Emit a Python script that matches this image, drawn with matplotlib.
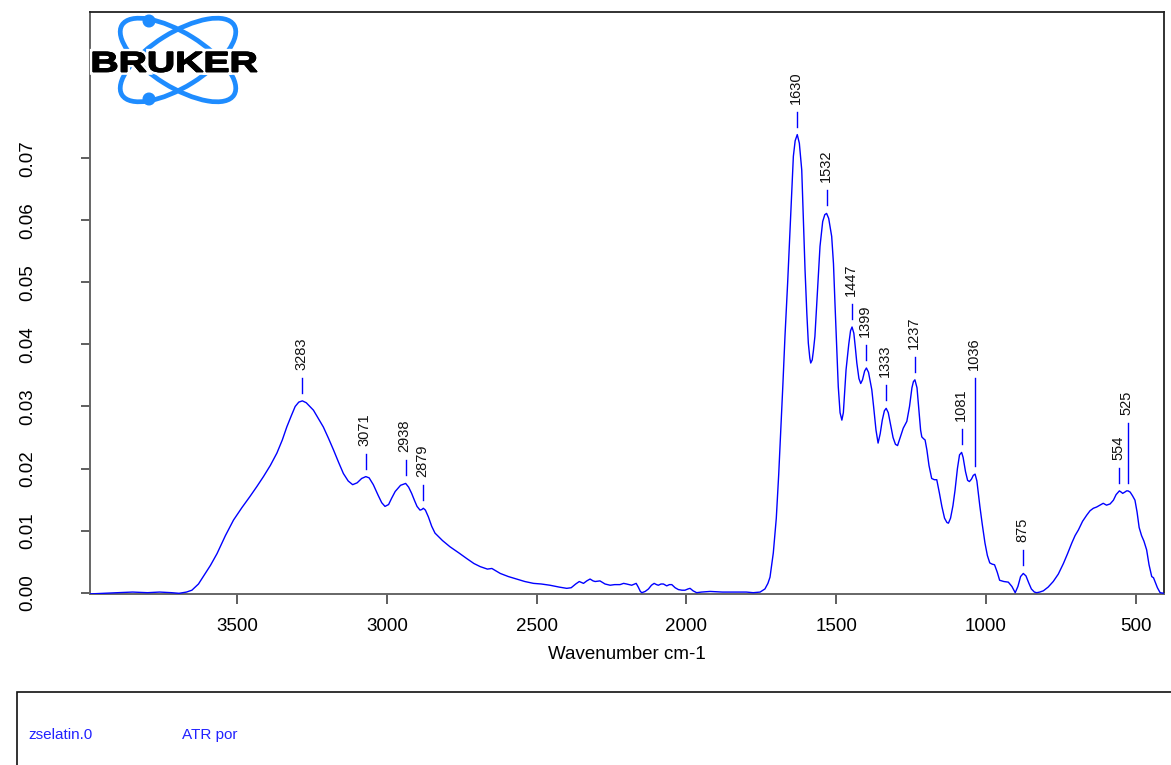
import numpy as np
import matplotlib
matplotlib.use("Agg")
import matplotlib.pyplot as plt
from matplotlib.patches import Ellipse, Circle, PathPatch, Rectangle
from matplotlib.textpath import TextPath
from matplotlib.font_manager import FontProperties
from matplotlib.transforms import Affine2D
import matplotlib.patheffects as pe

plt.rcParams['font.family'] = ['Liberation Sans', 'DejaVu Sans']

# ---- spectrum (wavenumber in cm-1, absorbance units) ----
wavenumber = [
    3993, 3950, 3900, 3850, 3800, 3760, 3720, 3695, 3670, 3652, 3630, 3614,
    3590, 3568, 3540, 3513, 3485, 3458, 3435, 3413, 3390, 3368, 3350, 3335,
    3320, 3307, 3295, 3283, 3270, 3258, 3246, 3230, 3213, 3196, 3179, 3162,
    3146, 3130, 3115, 3100, 3085, 3071, 3060, 3046, 3030, 3018, 3007, 2995,
    2985, 2973, 2955, 2938, 2928, 2918, 2908, 2900, 2890, 2884, 2879, 2872,
    2862, 2851, 2840, 2815, 2790, 2760, 2734, 2710, 2689, 2665, 2650, 2622,
    2595, 2567, 2540, 2511, 2485, 2456, 2425, 2400, 2385, 2370, 2358, 2344,
    2333, 2322, 2312, 2305, 2289, 2272, 2255, 2240, 2222, 2210, 2200, 2183,
    2168, 2161, 2154, 2149, 2138, 2127, 2117, 2108, 2100, 2094, 2085, 2077,
    2066, 2057, 2049, 2038, 2027, 2015, 2005, 1995, 1988, 1978, 1966, 1950,
    1921, 1880, 1843, 1800, 1777, 1754, 1738, 1728, 1721, 1710, 1700, 1692,
    1685, 1678, 1671, 1662, 1654, 1648, 1643, 1637, 1630, 1623, 1615, 1610,
    1604, 1598, 1593, 1588, 1585, 1580, 1576, 1571, 1563, 1554, 1545, 1538,
    1532, 1525, 1515, 1509, 1504, 1498, 1493, 1487, 1481, 1476, 1472, 1467,
    1458, 1452, 1447, 1441, 1436, 1431, 1424, 1418, 1412, 1405, 1399, 1392,
    1386, 1381, 1375, 1367, 1360, 1353, 1346, 1339, 1333, 1326, 1318, 1310,
    1302, 1295, 1286, 1276, 1264, 1255, 1247, 1242, 1237, 1230, 1224, 1218,
    1214, 1208, 1203, 1197, 1190, 1181, 1172, 1164, 1155, 1147, 1138, 1130,
    1125, 1118, 1110, 1103, 1095, 1088, 1081, 1076, 1068, 1061, 1055, 1048,
    1042, 1036, 1030, 1024, 1020, 1012, 1003, 995, 987, 979, 971, 962,
    954, 940, 925, 913, 902, 893, 884, 875, 866, 857, 848, 838,
    830, 820, 808, 792, 775, 758, 741, 727, 713, 702, 691, 677,
    663, 652, 641, 630, 619, 608, 597, 585, 574, 565, 554, 548,
    543, 536, 530, 525, 518, 510, 502, 495, 488, 480, 472, 463,
    455, 446, 440, 435, 427, 418, 405,
]
absorbance = [
    -0.0002, -0.0001, 0.0000, 0.0001, 0.0000, 0.0001, 0.0000, -0.0001, 0.0001, 0.0004, 0.0014, 0.0026,
    0.0044, 0.0063, 0.0092, 0.0117, 0.0137, 0.0155, 0.0171, 0.0187, 0.0205, 0.0225, 0.0246, 0.0267,
    0.0285, 0.0300, 0.0307, 0.0309, 0.0306, 0.0300, 0.0294, 0.0281, 0.0267, 0.0249, 0.0230, 0.0210,
    0.0192, 0.0180, 0.0174, 0.0177, 0.0184, 0.0187, 0.0185, 0.0174, 0.0157, 0.0145, 0.0139, 0.0142,
    0.0152, 0.0163, 0.0173, 0.0176, 0.0170, 0.0160, 0.0148, 0.0139, 0.0133, 0.0134, 0.0136, 0.0133,
    0.0122, 0.0107, 0.0096, 0.0084, 0.0074, 0.0064, 0.0055, 0.0047, 0.0042, 0.0038, 0.0039, 0.0031,
    0.0026, 0.0022, 0.0018, 0.0015, 0.0014, 0.0012, 0.0009, 0.0007, 0.0008, 0.0014, 0.0018, 0.0015,
    0.0019, 0.0022, 0.0019, 0.0018, 0.0019, 0.0014, 0.0012, 0.0013, 0.0013, 0.0015, 0.0014, 0.0012,
    0.0015, 0.0009, 0.0002, 0.0000, 0.0002, 0.0006, 0.0012, 0.0015, 0.0013, 0.0012, 0.0014, 0.0014,
    0.0011, 0.0013, 0.0013, 0.0008, 0.0005, 0.0004, 0.0004, 0.0006, 0.0007, 0.0003, 0.0000, 0.0001,
    0.0002, 0.0001, 0.0001, 0.0001, 0.0000, 0.0001, 0.0006, 0.0015, 0.0025, 0.0064, 0.0120, 0.0190,
    0.0262, 0.0335, 0.0413, 0.0500, 0.0584, 0.0650, 0.0703, 0.0728, 0.0738, 0.0724, 0.0681, 0.0610,
    0.0520, 0.0450, 0.0402, 0.0378, 0.0370, 0.0375, 0.0390, 0.0413, 0.0480, 0.0558, 0.0598, 0.0609,
    0.0611, 0.0603, 0.0574, 0.0530, 0.0466, 0.0395, 0.0332, 0.0290, 0.0278, 0.0290, 0.0320, 0.0359,
    0.0400, 0.0422, 0.0428, 0.0418, 0.0395, 0.0370, 0.0345, 0.0337, 0.0343, 0.0357, 0.0362, 0.0355,
    0.0340, 0.0327, 0.0300, 0.0262, 0.0241, 0.0256, 0.0278, 0.0293, 0.0297, 0.0290, 0.0270, 0.0250,
    0.0239, 0.0237, 0.0250, 0.0265, 0.0276, 0.0300, 0.0330, 0.0340, 0.0343, 0.0330, 0.0295, 0.0262,
    0.0251, 0.0248, 0.0246, 0.0230, 0.0205, 0.0184, 0.0182, 0.0182, 0.0160, 0.0139, 0.0120, 0.0113,
    0.0112, 0.0120, 0.0140, 0.0165, 0.0200, 0.0222, 0.0226, 0.0218, 0.0195, 0.0181, 0.0179, 0.0183,
    0.0189, 0.0191, 0.0180, 0.0155, 0.0139, 0.0110, 0.0080, 0.0060, 0.0048, 0.0046, 0.0045, 0.0033,
    0.0020, 0.0018, 0.0017, 0.0010, 0.0000, 0.0010, 0.0026, 0.0031, 0.0027, 0.0016, 0.0006, 0.0001,
    0.0000, 0.0001, 0.0003, 0.0009, 0.0018, 0.0030, 0.0047, 0.0063, 0.0080, 0.0092, 0.0101, 0.0115,
    0.0125, 0.0132, 0.0136, 0.0138, 0.0141, 0.0144, 0.0141, 0.0143, 0.0149, 0.0158, 0.0164, 0.0162,
    0.0160, 0.0162, 0.0164, 0.0164, 0.0162, 0.0156, 0.0149, 0.0130, 0.0105, 0.0092, 0.0083, 0.0069,
    0.0045, 0.0026, 0.0024, 0.0018, 0.0008, 0.0000, -0.0001,
]

# picked peaks
peak_positions = [3283, 3071, 2938, 2879, 1630, 1532, 1447, 1399, 1333,
                  1237, 1081, 1036, 875, 554, 525]

x_ticks = [3500, 3000, 2500, 2000, 1500, 1000, 500]
y_ticks = [0.00, 0.01, 0.02, 0.03, 0.04, 0.05, 0.06, 0.07]
x_label = "Wavenumber cm-1"
sample_name = "zselatin.0"
sample_note = "ATR por"
logo_word = "BRUKER"

# ---- figure / axes layout (pixel geometry) ----
W, H = 1171, 765
fig = plt.figure(figsize=(W / 100, H / 100), dpi=100)
fig.patch.set_facecolor("white")

ax_l, ax_r, ax_t, ax_b = 89.5, 1164.0, 12.3, 594.3
ax = fig.add_axes([ax_l / W, 1 - ax_b / H, (ax_r - ax_l) / W, (ax_b - ax_t) / H])

x_lim = (3994, 405)
y_lim = (-0.00026, 0.0935)
ax.set_xlim(*x_lim)
ax.set_ylim(*y_lim)

wn = np.array(wavenumber, dtype=float)
ab = np.array(absorbance, dtype=float)
ax.plot(wn, ab, color="#0000ff", lw=1.0, solid_joinstyle="round", zorder=3)

for side in ("left", "bottom"):
    ax.spines[side].set_color("#666666")
    ax.spines[side].set_linewidth(1.4)
for side in ("top", "right"):
    ax.spines[side].set_color("#222222")
    ax.spines[side].set_linewidth(1.3)

ax.set_xticks(x_ticks)
ax.set_xticklabels([str(t) for t in x_ticks])
ax.set_yticks(y_ticks)
ax.set_yticklabels([f"{t:.2f}" for t in y_ticks], rotation=90, va="center")
ax.tick_params(axis="x", direction="out", length=7, width=1.1, color="#333333",
               labelsize=13.5, pad=10)
ax.tick_params(axis="y", direction="out", length=6.5, width=1.1, color="#333333",
               labelsize=13.5, pad=32)
ax.set_xlabel(x_label, fontsize=13.5, labelpad=8)

# ---- peak markers: stem above each picked peak plus rotated label ----
px_per_unit = (ax_b - ax_t) / (y_lim[1] - y_lim[0])
gap_px, stem_px, text_gap_px = 8, 15, 8
long_stems = {1036: 88, 525: 60}
order = np.argsort(wn)
for pk in peak_positions:
    y_pk = float(np.interp(pk, wn[order], ab[order]))
    stem = long_stems.get(pk, stem_px)
    y0 = y_pk + gap_px / px_per_unit
    y1 = y_pk + (gap_px + stem) / px_per_unit
    ax.plot([pk, pk], [y0, y1], color="#0000ff", lw=1.0, zorder=3)
    ax.text(pk + 4, y_pk + (gap_px + stem + text_gap_px) / px_per_unit, str(pk),
            rotation=90, ha="center", va="bottom", fontsize=10.5, color="#111111")

# ---- logo ----
lg = fig.add_axes([88 / W, 1 - 110 / H, 180 / W, 100 / H])
lg.set_xlim(88, 268)
lg.set_ylim(110, 10)
lg.axis("off")
orbit_col = "#1e8cff"
for ang in (32, -32):
    lg.add_patch(Ellipse((178, 60), 132, 54, angle=ang, fill=False,
                         edgecolor=orbit_col, lw=3.4))
for cy in (21, 99):
    lg.add_patch(Circle((149, cy), 5.8, color=orbit_col))

tp = TextPath((0, 0), logo_word, size=10,
              prop=FontProperties(family="Liberation Sans", weight="bold"))
ext = tp.get_extents()
bx0, bx1, by0, by1 = 93, 257, 52, 72
sx = (bx1 - bx0) / ext.width
sy = (by1 - by0) / ext.height
to_box = Affine2D().translate(-ext.x0, -ext.y0).scale(sx, -sy).translate(bx0, by1)
word = to_box.transform_path(tp)
lg.add_patch(PathPatch(Affine2D().translate(1.5, 1.5).transform_path(word),
                       facecolor="#9a9a9a", edgecolor="none"))
wp = PathPatch(word, facecolor="black", edgecolor="black", lw=0.8)
wp.set_path_effects([pe.withStroke(linewidth=4.5, foreground="white"), pe.Normal()])
lg.add_patch(wp)

# ---- sample info box ----
fig.patches.append(Rectangle((17 / W, -0.05), 1.1, 0.05 + (H - 691.7) / H,
                             transform=fig.transFigure, fill=False,
                             edgecolor="#111111", lw=1.2))
fig.text(28 / W, (H - 735) / H, sample_name, fontsize=11, color="#2222ff",
         va="center", ha="left")
fig.text(181.5 / W, (H - 735) / H, sample_note, fontsize=11, color="#2222ff",
         va="center", ha="left")

fig.savefig("out.png", dpi=100, facecolor="white")
